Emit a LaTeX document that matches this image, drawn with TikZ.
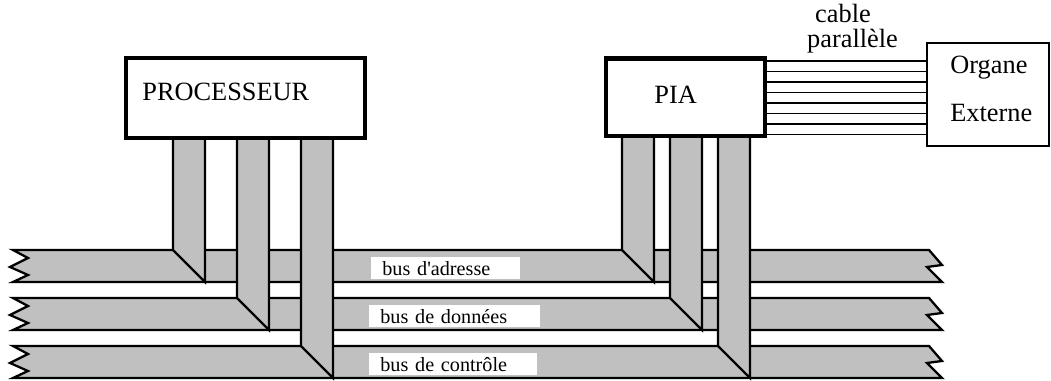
\documentclass[tikz,border=0pt]{standalone}
\usepackage{fontspec}
\setmainfont{Liberation Serif}
\usepackage{tikz}
\definecolor{CG}{RGB}{192,192,192}

\begin{document}
\begin{tikzpicture}[x=0.02cm, y=-0.02cm,
    unit/.style={draw, line width=2.4pt, fill=white, inner sep=0pt},
    txt/.style={font=\fontsize{15}{18}\selectfont, inner sep=0pt, anchor=base west},
    busline/.style={draw, fill=CG, line width=1.3pt, line join=miter},
    buslabel/.style={fill=white, inner xsep=0.22cm, inner ysep=0pt, minimum height=0.44cm,
      anchor=north west, align=left, font=\fontsize{11.5}{13}\selectfont}]
    \useasboundingbox (0,0) rectangle (1051,381);

    % blocs
    \node[unit, minimum width=4.78cm, minimum height=1.6cm] (proc) at (245.5,98) {};
    \node[unit, minimum width=3.18cm, minimum height=1.55cm] (pia) at (685.5,97.3) {};
    \node[unit, line width=1.2pt, minimum width=2.43cm, minimum height=2.06cm] (ext) at (988,94.5) {};
    \node[txt] (proctxt) at (142,101) {PROCESSEUR};
    \node[txt] (piatxt) at (654,104) {PIA};
    \node[txt] (exttxt1) at (950,74) {Organe};
    \node[txt] (exttxt2) at (950,121.7) {Externe};
    \node[txt, anchor=base] (cabtxt1) at (843,23) {cable};
    \node[txt, anchor=base] (cabtxt2) at (852.5,48) {parallèle};

    % les trois bus
    \foreach \t in {250,298,346}
        \draw[busline] (13,\t) -- (929,\t) -- (942,\t+15) -- (927,\t+17) -- (942,\t+32)
            -- (13,\t+32) -- (28,\t+25) -- (10,\t+17) -- (28,\t+8) -- cycle;

    % liaisons vers les bus
    \foreach \x/\t [evaluate=\x as \xr using \x+32] in {173/250,237/298,301/346}
        \draw[busline] (proc.south -| \x,0) -- (\x,\t) -- (\xr,\t+32) -- (proc.south -| \xr,0);
    \foreach \x/\t [evaluate=\x as \xr using \x+32] in {622/250,670/298,718/346}
        \draw[busline] (pia.south -| \x,0) -- (\x,\t) -- (\xr,\t+32) -- (pia.south -| \xr,0);

    \node[buslabel, text width=2.54cm] (lab1) at (371,257) {bus d\textquotesingle adresse};
    \node[buslabel, text width=2.98cm] (lab2) at (369,305) {bus de données};
    \node[buslabel, text width=2.92cm] (lab3) at (369,353) {bus de contrôle};

    % cable parallele
    \foreach \i [evaluate=\i as \yc using 61+10.5*\i] in {0,...,7}
        \draw[line width=0.9pt] (pia.east |- 0,\yc) -- (ext.west |- 0,\yc);
\end{tikzpicture}
\end{document}
